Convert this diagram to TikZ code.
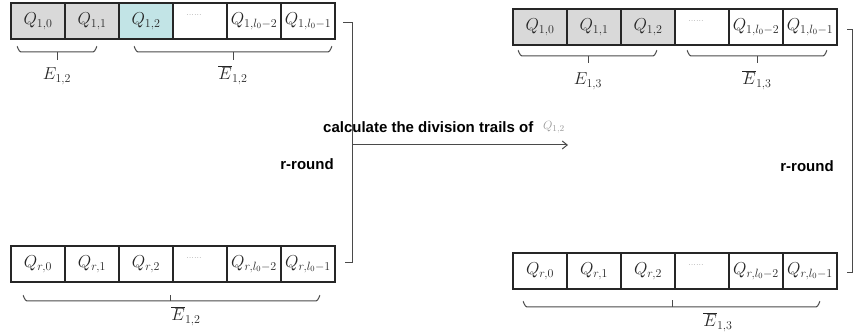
\documentclass[tikz,border=0pt]{standalone}
\usepackage{fontspec}
\newfontfamily\arialfont{Liberation Sans}
\usetikzlibrary{arrows.meta,calc}
\definecolor{cellgray}{HTML}{D9D9D9}
\definecolor{cellteal}{HTML}{C2E4E6}
\definecolor{qcol}{HTML}{262626}
\definecolor{linecol}{HTML}{4A4A4A}
\tikzset{
  cell/.style={draw=black!85, line width=1.3pt, minimum width=54pt, minimum height=36pt, inner sep=0pt, outer sep=0pt, anchor=north west, text=qcol, font=\fontsize{17}{17}\selectfont},
  gcell/.style={cell, fill=cellgray},
  tcell/.style={cell, fill=cellteal},
  bracelabel/.style={text=qcol, font=\fontsize{17}{17}\selectfont, inner sep=0pt},
  bracepath/.style={draw=linecol, line width=1pt},
  bracket/.style={draw=linecol, line width=1pt},
  boldlabel/.style={font=\arialfont\bfseries\fontsize{15}{15}\selectfont, inner sep=0pt},
  dotstext/.style={text=black!45, font=\fontsize{9}{9}\selectfont, inner sep=0pt}
}
\newcommand{\upbrace}[3]{% x1 x2 y
  \draw[bracepath] (#1,#3-5) to[out=90,in=180] (#1+4,#3) -- (#2-4,#3) to[out=0,in=90] (#2,#3-5);
}
\begin{document}
\begin{tikzpicture}[x=1pt,y=-1pt]
\useasboundingbox (0,0) rectangle (855,336);
% ---------- left top row
\node[gcell] (L1a) at (11,3) {$Q_{1,0}$};
\node[gcell] (L1b) at (65,3) {$Q_{1,1}$};
\node[tcell] (L1c) at (119,3) {$Q_{1,2}$};
\node[cell] (L1d) at (173,3) {};
\node[cell] (L1e) at (227,3) {$Q_{1,l_0-2}$};
\node[cell] (L1f) at (281,3) {$Q_{1,l_0-1}$};
\node[dotstext] at ($(L1d.center)+(-6,-6)$) {......};
% ---------- left bottom row
\node[cell] (Lra) at (11,246) {$Q_{r,0}$};
\node[cell] (Lrb) at (65,246) {$Q_{r,1}$};
\node[cell] (Lrc) at (119,246) {$Q_{r,2}$};
\node[cell] (Lrd) at (173,246) {};
\node[cell] (Lre) at (227,246) {$Q_{r,l_0-2}$};
\node[cell] (Lrf) at (281,246) {$Q_{r,l_0-1}$};
\node[dotstext] at ($(Lrd.center)+(-6,-6)$) {......};
% ---------- right top row
\node[gcell] (R1a) at (513,9) {$Q_{1,0}$};
\node[gcell] (R1b) at (567,9) {$Q_{1,1}$};
\node[gcell] (R1c) at (621,9) {$Q_{1,2}$};
\node[cell] (R1d) at (675,9) {};
\node[cell] (R1e) at (729,9) {$Q_{1,l_0-2}$};
\node[cell] (R1f) at (783,9) {$Q_{1,l_0-1}$};
\node[dotstext] at ($(R1d.center)+(-6,-6)$) {......};
% ---------- right bottom row
\node[cell] (Rra) at (513,253) {$Q_{r,0}$};
\node[cell] (Rrb) at (567,253) {$Q_{r,1}$};
\node[cell] (Rrc) at (621,253) {$Q_{r,2}$};
\node[cell] (Rrd) at (675,253) {};
\node[cell] (Rre) at (729,253) {$Q_{r,l_0-2}$};
\node[cell] (Rrf) at (783,253) {$Q_{r,l_0-1}$};
\node[dotstext] at ($(Rrd.center)+(-6,-6)$) {......};
% ---------- braces left top
\upbrace{17}{97}{52}
\draw[bracepath] (57,52) -- (57,60);
\node[bracelabel] (E12) at (57,76) {$E_{1,2}$};
\upbrace{134}{332}{52}
\draw[bracepath] (233,52) -- (233,60);
\node[bracelabel] (Eb12) at (233,75) {$\overline{E}_{1,2}$};
% ---------- brace left bottom
\upbrace{23}{320}{301}
\draw[bracepath] (170,301) -- (170,295);
\node[bracelabel] (Eb12b) at (186,316) {$\overline{E}_{1,2}$};
% ---------- braces right top
\upbrace{518}{657}{56}
\draw[bracepath] (588,56) -- (588,63);
\node[bracelabel] (E13) at (588,81) {$E_{1,3}$};
\upbrace{687}{827}{56}
\draw[bracepath] (757,56) -- (757,63);
\node[bracelabel] (Eb13) at (757,80) {$\overline{E}_{1,3}$};
% ---------- brace right bottom
\upbrace{523}{820}{307}
\draw[bracepath] (672,307) -- (672,300);
\node[bracelabel] (Eb13b) at (718,322) {$\overline{E}_{1,3}$};
% ---------- brackets
\coordinate (LTa) at ($(L1f.east)+(8,2)$);
\coordinate (LTb) at ($(L1f.east)+(17,2)$);
\coordinate (LBa) at ($(Lrf.east)+(10,-1)$);
\coordinate (LBb) at ($(Lrf.east)+(17,-1)$);
\draw[bracket] (LTa) -- (LTb) -- (LBb) -- (LBa);
\coordinate (RTa) at ($(R1f.east)+(10,3)$);
\coordinate (RTb) at ($(R1f.east)+(15,3)$);
\coordinate (RBa) at ($(Rrf.east)+(10,2)$);
\coordinate (RBb) at ($(Rrf.east)+(15,2)$);
\draw[bracket] (RTa) -- (RTb) -- (RBb) -- (RBa);
% ---------- labels
\node[boldlabel] (rl) at (307,164) {r-round};
\node[boldlabel] (rr) at (807,166) {r-round};
\node[boldlabel, anchor=west] (calc) at (323,127) {calculate the division trails of};
\node[text=black!40, font=\fontsize{13}{13}\selectfont, inner sep=0pt] (q12) at (554,127) {$Q_{1,2}$};
% ---------- arrow
\coordinate (as) at (LTb |- 0,145);
\coordinate (ae) at (568,145);
\draw[bracket, -{Straight Barb[length=5pt,width=8pt]}] (as) -- (ae);
\end{tikzpicture}
\end{document}
